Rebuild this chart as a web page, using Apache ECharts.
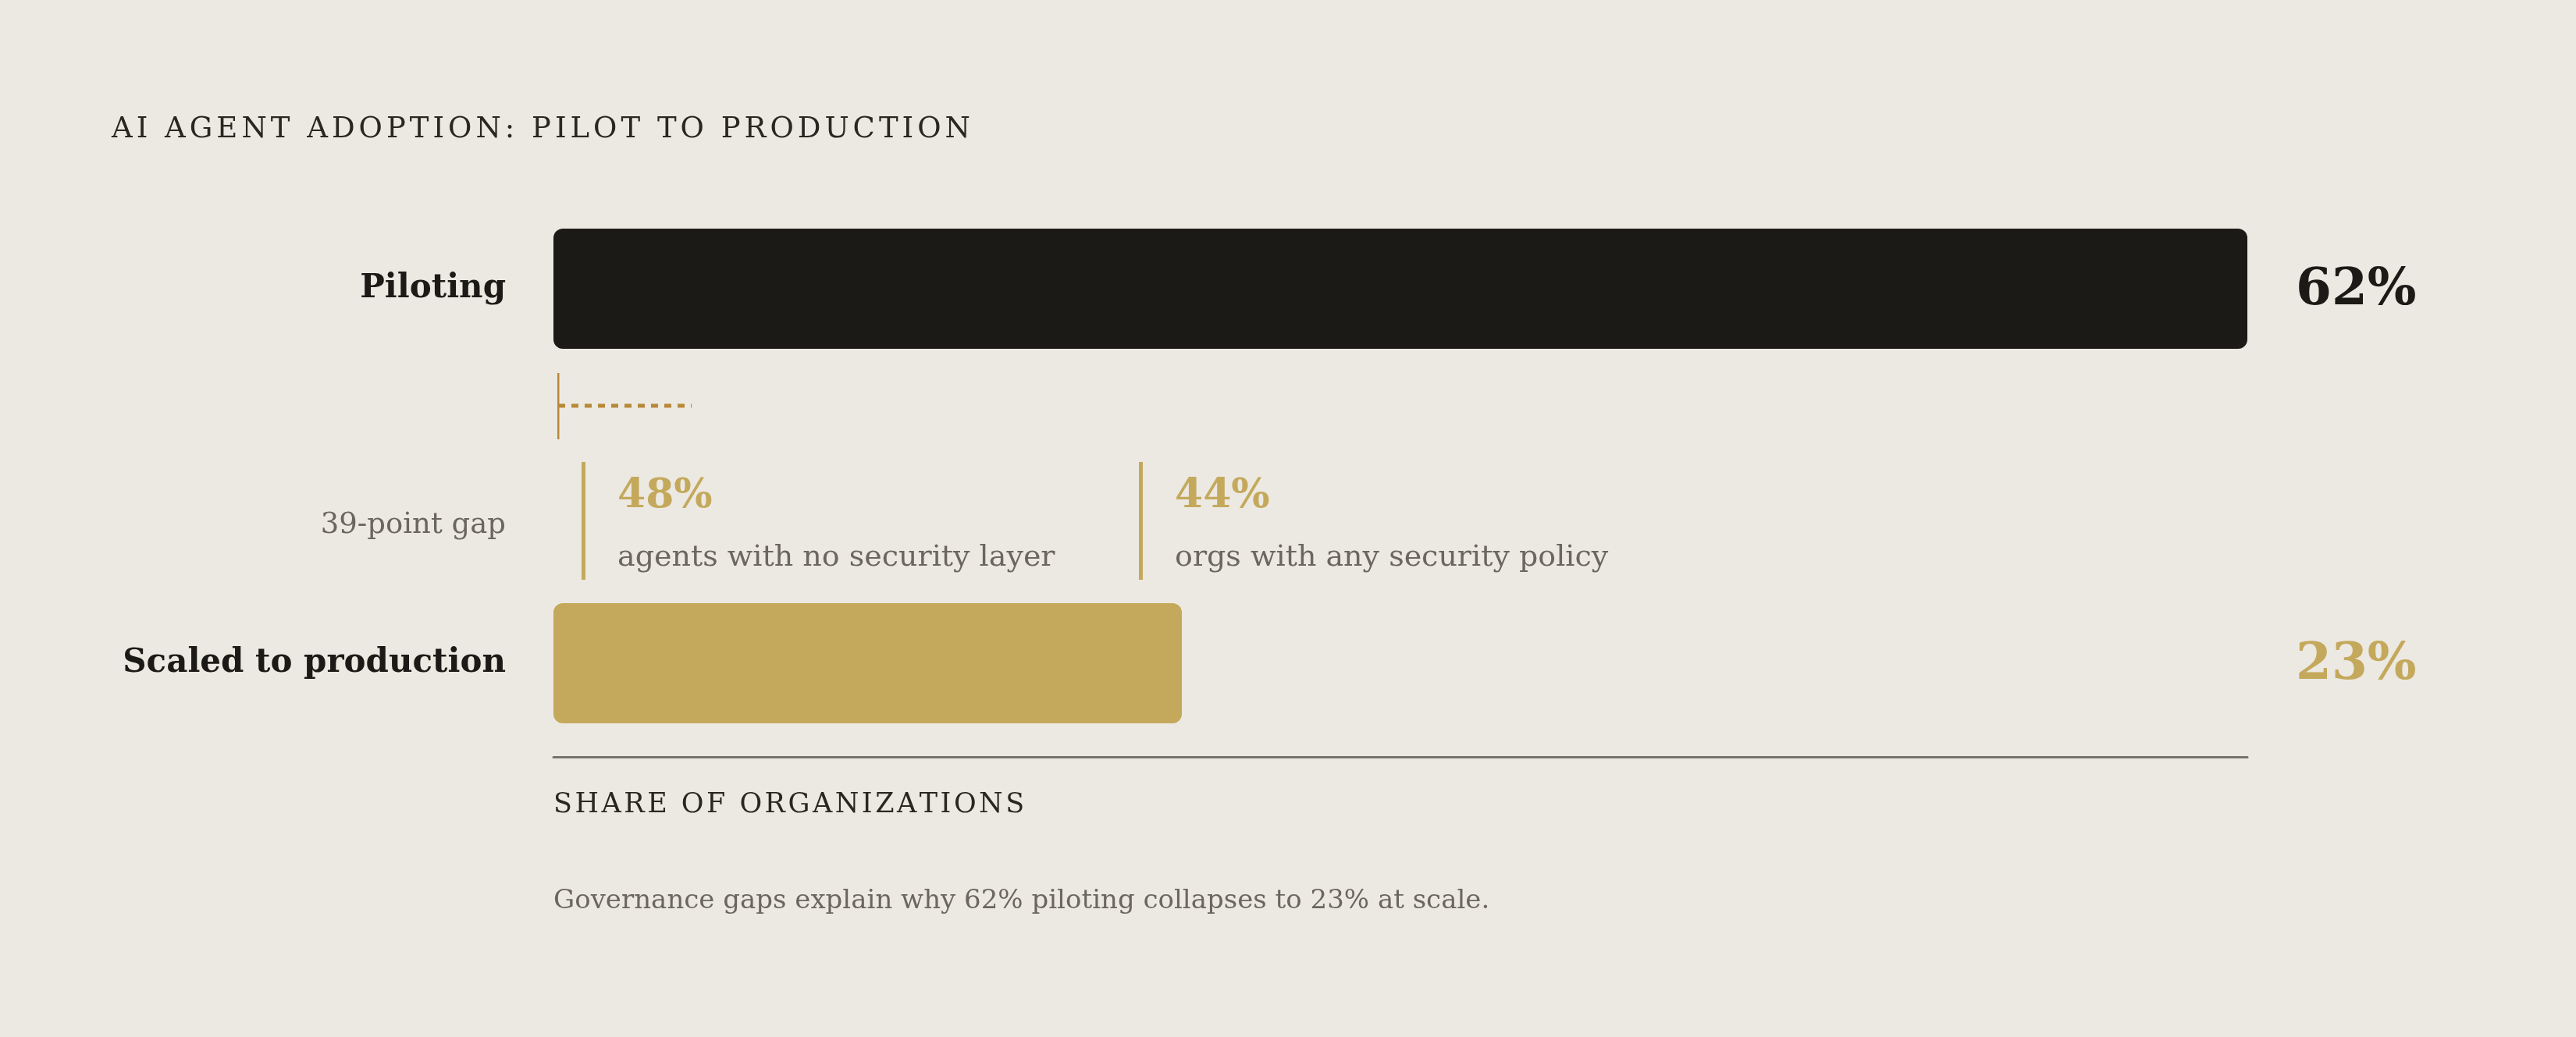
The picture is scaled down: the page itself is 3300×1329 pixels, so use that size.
<!DOCTYPE html>
<html>
  <head>
    <meta charset="utf-8" />
    <title>AI Agent Adoption</title>
    <script src="https://cdn.jsdelivr.net/npm/echarts@6/dist/echarts.min.js"></script>
    <style>
      body { margin: 0; background: #ECE9E2; }
    </style>
  </head>
  <body>
    <div id="main" style="width: 3300px; height: 1329px"></div>

    <script type="text/javascript">
      // data
      var categories = ["Piloting", "39-point gap", "Scaled to production"];
      var values = [62, null, 23];
      var barColors = ["#1C1A16", "#C4A95C", "#C4A95C"];
      var noteValues = [48, 44];
      var noteTexts = ["agents with no security layer", "orgs with any security policy"];

      var FONT = "DejaVu Serif";
      var DARK = "#1C1A16";
      var GOLD = "#C4A95C";
      var GREY = "#6B6760";

      // letter-spaced caps: one rich token per character
      function spaced(str, style) {
        return str.split("").map(function (c) {
          return "{" + style + "|" + c + "}";
        }).join("");
      }

      var myChart = echarts.init(document.getElementById("main"));

      var option = {
        backgroundColor: "#ECE9E2",
        animation: false,
        title: [
          {
            text: spaced("AI AGENT ADOPTION: PILOT TO PRODUCTION", "t"),
            left: 143,
            top: 148,
            padding: 0,
            textStyle: {
              fontFamily: FONT,
              fontSize: 38,
              color: "#2A2620",
              rich: {
                t: { fontFamily: FONT, fontSize: 37, fontWeight: "normal", color: "#2A2620", padding: [0, 5, 0, 0] },
              },
            },
          },
          {
            text: "Governance gaps explain why 62% piloting collapses to 23% at scale.",
            left: 709,
            top: 1138,
            padding: 0,
            textStyle: { fontFamily: FONT, fontSize: 34, fontWeight: "normal", color: GREY },
          },
        ],
        grid: {
          left: 709,
          right: 421,
          top: 250,
          bottom: 359,
          containLabel: false,
          outerBoundsMode: "none",
        },
        xAxis: {
          type: "value",
          min: 0,
          max: "dataMax",
          name: spaced("SHARE OF ORGANIZATIONS", "n"),
          nameLocation: "start",
          nameGap: 0,
          nameTextStyle: {
            fontFamily: FONT,
            fontSize: 35,
            color: "#2A2620",
            align: "left",
            verticalAlign: "top",
            padding: [44, 0, 0, 0],
            rich: {
              n: { fontFamily: FONT, fontSize: 35, color: "#2A2620", padding: [0, 3.5, 0, 0] },
            },
          },
          axisLine: { show: true, lineStyle: { color: "#77746C", width: 3 } },
          axisTick: { show: false },
          axisLabel: { show: false },
          splitLine: { show: false },
        },
        yAxis: [
          {
            type: "category",
            data: categories,
            inverse: true,
            axisLine: { show: false },
            axisTick: { show: false },
            axisLabel: {
              margin: 61,
              formatter: function (val, idx) {
                return idx === 1 ? "{gap|" + val + "}" : "{cat|" + val + "}";
              },
              rich: {
                cat: { fontFamily: FONT, fontSize: 42, fontWeight: "bold", color: DARK },
                gap: { fontFamily: FONT, fontSize: 37, color: GREY, padding: [126, 0, 0, 0] },
              },
            },
          },
          {
            type: "category",
            data: categories,
            inverse: true,
            position: "right",
            axisLine: { show: false },
            axisTick: { show: false },
            axisLabel: {
              margin: 62,
              align: "left",
              formatter: function (val, idx) {
                if (values[idx] == null) return "";
                return "{v" + idx + "|" + values[idx] + "%}";
              },
              rich: {
                v0: { fontFamily: FONT, fontSize: 66, fontWeight: "bold", color: DARK, padding: [6, 0, 0, 0] },
                v2: { fontFamily: FONT, fontSize: 66, fontWeight: "bold", color: GOLD, padding: [6, 0, 0, 0] },
              },
            },
          },
        ],
        series: [
          {
            type: "bar",
            barWidth: 154,
            data: values.map(function (v, i) {
              return {
                value: v == null ? "-" : v,
                itemStyle: { color: barColors[i], borderRadius: 12 },
              };
            }),
          },
        ],
      };
      myChart.setOption(option);

      // annotation row + bracket, placed from the axes
      var left = myChart.convertToPixel({ xAxisIndex: 0 }, 0);
      var midY = myChart.convertToPixel({ yAxisIndex: 0 }, categories[1]);
      var noteOffsets = [38, 752];
      var graphics = [
        {
          type: "rect",
          shape: { x: left + 5, y: midY - 132, width: 2.5, height: 85 },
          style: { fill: "#B8893A" },
        },
        {
          type: "line",
          shape: { x1: left + 6, y1: midY - 90, x2: left + 177, y2: midY - 90 },
          style: { stroke: "#B8893A", lineWidth: 5, lineDash: [9, 8] },
        },
      ];
      noteValues.forEach(function (v, i) {
        var x0 = left + noteOffsets[i];
        graphics.push({
          type: "rect",
          shape: { x: x0 - 2, y: midY - 18, width: 5, height: 151 },
          style: { fill: GOLD },
        });
        graphics.push({
          type: "text",
          x: x0 + 44,
          y: midY + 26,
          style: {
            text: v + "%",
            font: "bold 52px '" + FONT + "'",
            fill: GOLD,
            verticalAlign: "middle",
          },
        });
        graphics.push({
          type: "text",
          x: x0 + 44,
          y: midY + 105,
          style: {
            text: noteTexts[i],
            font: "38px '" + FONT + "'",
            fill: GREY,
            verticalAlign: "middle",
          },
        });
      });
      myChart.setOption({ graphic: graphics });
    </script>
  </body>
</html>
